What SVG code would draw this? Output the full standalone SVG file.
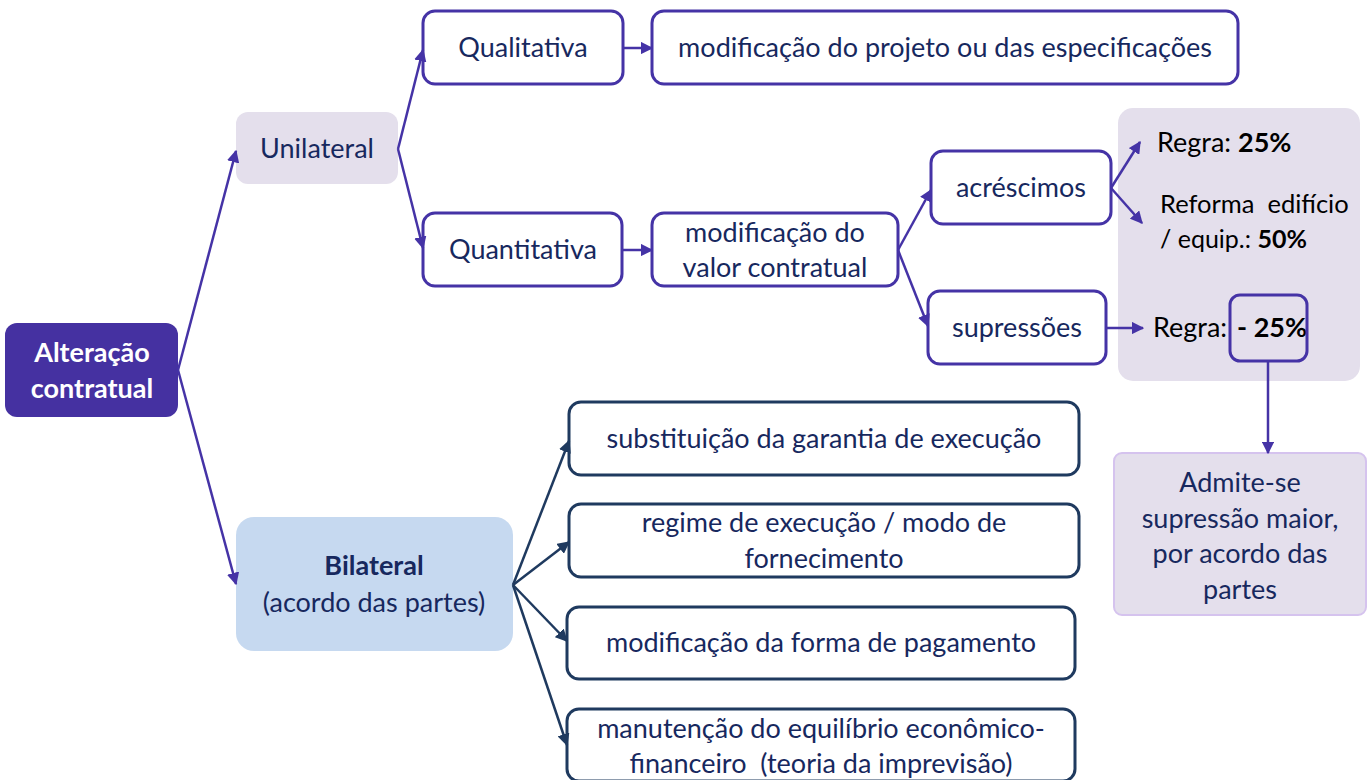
<svg xmlns="http://www.w3.org/2000/svg" width="1367" height="780" viewBox="0 0 1367 780">
<defs>
<style>
text{font-family:Lato,"Open Sans","Liberation Sans",sans-serif;font-size:27px;fill:#17285E;text-anchor:middle}
.p{fill:#fff;stroke:#4533A6;stroke-width:3}
.n{fill:#fff;stroke:#1F3A5F;stroke-width:3}
.cp{stroke:#4533A6;stroke-width:2.5;fill:none;marker-end:url(#ap)}
.cn{stroke:#1F3A5F;stroke-width:2.5;fill:none;marker-end:url(#an)}
.b{font-weight:bold}
.l{text-anchor:start}
.k{fill:#000}
.w{fill:#fff}
</style>
<marker id="ap" viewBox="0 0 10 10" refX="9" refY="5" markerWidth="5" markerHeight="5" orient="auto" markerUnits="strokeWidth"><path d="M0,0L10,5L0,10z" fill="#4533A6"/></marker>
<marker id="an" viewBox="0 0 10 10" refX="9" refY="5" markerWidth="5" markerHeight="5" orient="auto" markerUnits="strokeWidth"><path d="M0,0L10,5L0,10z" fill="#1F3A5F"/></marker>
</defs>
<rect width="1367" height="780" fill="#fff"/>
<g id="alteracao"><rect x="5" y="323" width="173" height="94" rx="12" fill="#4531A1"/><text x="92" y="362" class="b w">Alteração</text><text x="92" y="398" class="b w">contratual</text></g>
<g id="unilateral"><rect x="236" y="112" width="162" height="72" rx="12" fill="#E4DFEC"/><text x="317" y="158">Unilateral</text></g>
<g id="qualitativa"><rect class="p" x="423" y="11" width="200" height="73" rx="12"/><text x="523" y="57">Qualitativa</text></g>
<g id="modproj"><rect class="p" x="652" y="11" width="586" height="73" rx="12"/><text x="945" y="57">modificação do projeto ou das especificações</text></g>
<g id="quantitativa"><rect class="p" x="423" y="213" width="199" height="73" rx="12"/><text x="523" y="259">Quantitativa</text></g>
<g id="modvalor"><rect class="p" x="652" y="213" width="246" height="73" rx="12"/><text x="775" y="242">modificação do</text><text x="775" y="277">valor contratual</text></g>
<g id="acrescimos"><rect class="p" x="931" y="151" width="180" height="73" rx="12"/><text x="1021" y="197">acréscimos</text></g>
<g id="supressoes"><rect class="p" x="928" y="291" width="178" height="73" rx="12"/><text x="1017" y="337">supressões</text></g>
<g id="regras"><rect x="1118" y="108" width="242" height="273" rx="15" fill="#E4DFEC"/>
<text x="1157" y="152" class="l k">Regra: <tspan class="b">25%</tspan></text>
<text x="1160" y="213" class="l k" xml:space="preserve" style="font-size:25.5px">Reforma  edifício</text>
<text x="1160" y="248" class="l k" style="font-size:25px">/ equip.: <tspan class="b">50%</tspan></text>
<text x="1153" y="337" class="l k">Regra:</text>
<text x="1237" y="337" class="l k b">- 25%</text>
<rect x="1230" y="295" width="77" height="66" rx="10" fill="none" stroke="#4533A6" stroke-width="3"/></g>
<g id="admite"><rect x="1114" y="453" width="252" height="162" rx="8" fill="#E4DFEC" stroke="#D5C3EE" stroke-width="2"/>
<text x="1240" y="492">Admite-se</text><text x="1240" y="528">supressão maior,</text><text x="1240" y="563">por acordo das</text><text x="1240" y="599">partes</text></g>
<g id="bilateral"><rect x="236" y="517" width="277" height="134" rx="18" fill="#C6D9F0"/><text x="374" y="575" class="b">Bilateral</text><text x="374" y="612">(acordo das partes)</text></g>
<g id="substituicao"><rect class="n" x="569" y="402" width="510" height="73" rx="12"/><text x="824" y="448">substituição da garantia de execução</text></g>
<g id="regime"><rect class="n" x="569" y="504" width="510" height="73" rx="12"/><text x="824" y="532">regime de execução / modo de</text><text x="824" y="568">fornecimento</text></g>
<g id="formapag"><rect class="n" x="567" y="607" width="508" height="72" rx="12"/><text x="821" y="652">modificação da forma de pagamento</text></g>
<g id="manutencao"><rect class="n" x="567" y="709" width="508" height="72" rx="12"/><text x="821" y="738">manutenção do equilíbrio econômico-</text><text x="821" y="773" xml:space="preserve">financeiro  (teoria da imprevisão)</text></g>
<g id="connectors">
<path class="cp" d="M178,370L236,151"/>
<path class="cp" d="M178,370L236,584"/>
<path class="cp" d="M398,149L423,50"/>
<path class="cp" d="M398,149L423,248"/>
<path class="cp" d="M623,48L652,48"/>
<path class="cp" d="M622,250L652,250"/>
<path class="cp" d="M898,250L931,190"/>
<path class="cp" d="M898,250L928,326"/>
<path class="cp" d="M1111,188L1140,142"/>
<path class="cp" d="M1111,188L1142,223"/>
<path class="cp" d="M1106,328L1143,328"/>
<path class="cp" d="M1268,361L1268,453"/>
<path class="cn" d="M513,585L569,441"/>
<path class="cn" d="M513,585L569,542"/>
<path class="cn" d="M513,585L567,641"/>
<path class="cn" d="M513,585L567,745"/>
</g>
</svg>
